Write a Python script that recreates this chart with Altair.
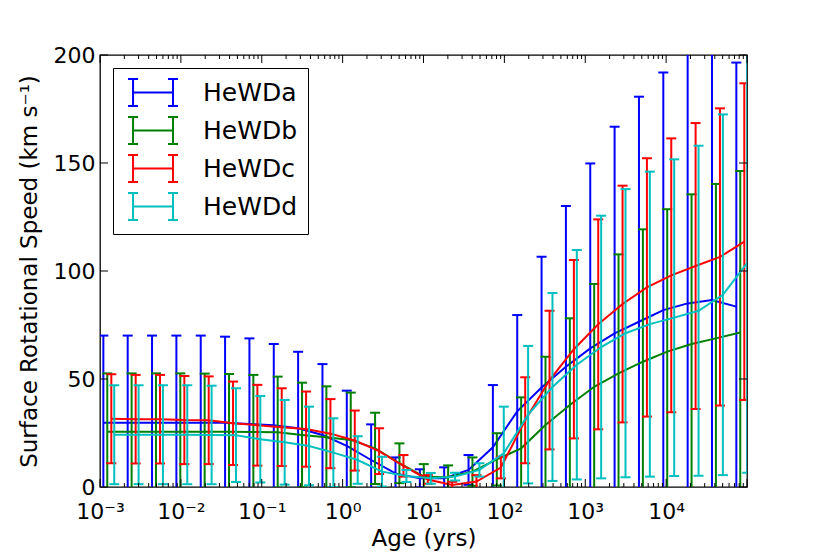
import json
import altair as alt
import pandas as pd

# ---------------- data ----------------
series = ["HeWDa", "HeWDb", "HeWDc", "HeWDd"]
colors = ["#0000ff", "#008000", "#ff0000", "#00bfbf"]

age_a = [0.0011, 0.0022, 0.0044, 0.0088, 0.0176, 0.0352, 0.0704, 0.1408, 0.2816, 0.5632,
         1.126, 2.253, 4.506, 9.011, 18.02, 36.04, 72.09, 144.2, 288.4, 576.7,
         1153, 2307, 4614, 9228, 18455, 36910, 73820]
age_b = [0.00123, 0.00246, 0.00492, 0.00984, 0.01968, 0.03936, 0.07872, 0.1574, 0.3149, 0.6298,
         1.260, 2.519, 5.038, 10.08, 20.15, 40.30, 80.61, 161.2, 322.4, 644.9,
         1290, 2579, 5159, 10318, 20636, 41272, 82543]
age_c = [0.00138, 0.00276, 0.00552, 0.01104, 0.02208, 0.04416, 0.08832, 0.1766, 0.3533, 0.7066,
         1.413, 2.826, 5.652, 11.30, 22.61, 45.22, 90.44, 180.9, 361.8, 723.5,
         1447, 2894, 5788, 11576, 23152, 46305, 92610]
age_d = [0.0015, 0.003, 0.006, 0.012, 0.024, 0.048, 0.096, 0.192, 0.384, 0.768,
         1.536, 3.072, 6.144, 12.29, 24.58, 49.15, 98.30, 196.6, 393.2, 786.4,
         1573, 3146, 6291, 12583, 25166, 50332, 100663]

speed_a = [29.8, 29.8, 29.8, 29.8, 29.8, 29.7, 29.2, 28.6, 27.2, 24.1, 19.0, 12.5, 6.3, 4.0,
           4.0, 7.9, 18.4, 35.0, 46.1, 55.7, 64.2, 71.1, 76.5, 81.9, 85.0, 86.6, 83.5]
err_a = [40.3, 40.3, 40.3, 40.3, 40.3, 39.9, 39.6, 37.6, 35.4, 32.8, 25.6, 16.5, 7.4, 4.2,
         5.1, 6.9, 28.8, 44.6, 60.5, 74.4, 85.6, 95.7, 104.2, 110.0, 120.0, 122.0, 113.0]

speed_b = [25.6, 25.6, 25.6, 25.6, 25.6, 25.6, 25.5, 25.4, 24.1, 23.0, 21.8, 17.9, 11.0, 4.8,
           4.5, 7.1, 12.8, 17.9, 28.7, 38.0, 46.4, 52.6, 58.0, 62.7, 66.2, 68.8, 71.5]
err_b = [27.0, 27.0, 27.0, 27.0, 26.9, 26.7, 26.4, 25.7, 24.2, 23.6, 21.9, 16.5, 9.2, 5.8,
         5.5, 6.6, 12.1, 23.6, 31.6, 40.1, 47.6, 55.1, 61.3, 65.9, 69.3, 71.5, 74.8]

speed_c = [31.6, 31.4, 31.4, 31.0, 30.9, 29.5, 28.6, 27.7, 26.8, 24.7, 21.5, 16.6, 9.8, 3.5,
           0.9, 2.5, 9.0, 30.9, 49.5, 63.8, 75.3, 84.7, 92.4, 98.0, 102.3, 106.5, 113.6]
err_c = [20.6, 20.5, 20.5, 20.4, 20.3, 19.3, 18.7, 18.0, 17.4, 16.0, 13.9, 10.6, 5.0, 2.0,
         1.5, 3.0, 5.0, 19.9, 32.1, 41.3, 48.6, 54.8, 59.8, 63.4, 66.2, 68.8, 73.3]

speed_d = [24.2, 24.2, 24.2, 24.2, 24.1, 24.0, 22.1, 20.7, 19.0, 15.9, 12.5, 7.1, 5.1, 4.0,
           4.8, 7.9, 15.6, 33.5, 46.3, 56.6, 64.8, 71.2, 75.4, 78.4, 81.6, 89.0, 103.8]
err_d = [22.9, 22.9, 22.9, 22.9, 22.8, 21.7, 20.0, 19.6, 18.2, 15.9, 11.0, 6.9, 2.8, 2.5,
         1.8, 3.1, 21.6, 31.8, 43.5, 53.1, 60.8, 66.7, 70.6, 73.3, 76.4, 83.5, 97.2]

x_label_values = [0.001, 0.01, 0.1, 1, 10, 100, 1000, 10000]
x_tick_labels = ["10⁻³", "10⁻²", "10⁻¹", "10⁰", "10¹", "10²", "10³", "10⁴"]
x_major_ticks = [0.001, 0.01, 0.1, 1, 10, 100, 1000, 10000, 100000]
x_minor_ticks = [m * d for d in [0.001, 0.01, 0.1, 1, 10, 100, 1000, 10000] for m in range(2, 10)]
y_ticks = [0, 50, 100, 150, 200]

# ---------------- build table ----------------
rows = []
for name, ages, sp, er in zip(series, [age_a, age_b, age_c, age_d],
                              [speed_a, speed_b, speed_c, speed_d],
                              [err_a, err_b, err_c, err_d]):
    for t, m, e in zip(ages, sp, er):
        rows.append({"series": name, "age": t, "speed": m, "lo": m - e, "hi": m + e})
df = pd.DataFrame(rows)

W, H = 647, 432
FONT = "DejaVu Sans"

xscale = alt.Scale(type="log", domain=[1e-3, 1e5], nice=False)
yscale = alt.Scale(domain=[0, 200], nice=False)

label_expr = (json.dumps(x_tick_labels, ensure_ascii=False)
              + "[round(log(datum.value)/LN10)+3]")

xaxis = alt.Axis(values=x_label_values, labelExpr=label_expr, ticks=False, domain=False,
                 grid=False, labelFontSize=22, labelPadding=14, labelColor="black",
                 title="Age (yrs)", titleFontSize=23, titleFontWeight="normal",
                 titleColor="black", titlePadding=5, labelFlush=False)
yaxis = alt.Axis(values=y_ticks, ticks=False, domain=False, grid=False,
                 labelFontSize=22, labelPadding=5, labelColor="black",
                 title="Surface Rotational Speed (km s⁻¹)", titleFontSize=23,
                 titleFontWeight="normal", titleColor="black", titlePadding=12)

X = alt.X("age:Q", scale=xscale, axis=xaxis)
color_scale = alt.Scale(domain=series, range=colors)

legend_path = ("M-0.33,0H2.63M-0.33,-1V1M2.63,-1V1"
               "M-0.70,-1H0.04M-0.70,1H0.04M2.26,-1H3.0M2.26,1H3.0")
legend = alt.Legend(orient="none", legendX=13, legendY=13, title=None,
                    symbolType=legend_path, symbolSize=729, symbolStrokeWidth=2,
                    labelFontSize=25, labelFont=FONT, labelColor="black",
                    padding=10, strokeColor="black", fillColor="white",
                    rowPadding=3, labelOffset=51, symbolOffset=0)

cap_shape = "M-1,0H1"

layers = []
for i, (name, col) in enumerate(zip(series, colors)):
    b = alt.Chart(df).transform_filter(alt.datum.series == name)
    bars = b.mark_rule(clip=True, strokeWidth=2, color=col).encode(
        x=X, y=alt.Y("lo:Q", scale=yscale, axis=yaxis), y2="hi:Q")
    cap_hi = b.mark_point(clip=True, shape=cap_shape, size=100, filled=False,
                          strokeWidth=2, color=col, opacity=1).encode(
        x=X, y=alt.Y("hi:Q", scale=yscale, axis=yaxis))
    cap_lo = b.mark_point(clip=True, shape=cap_shape, size=100, filled=False,
                          strokeWidth=2, color=col, opacity=1).encode(
        x=X, y=alt.Y("lo:Q", scale=yscale, axis=yaxis))
    line = b.mark_line(clip=True, strokeWidth=2).encode(
        x=X, y=alt.Y("speed:Q", scale=yscale, axis=yaxis),
        color=alt.Color("series:N", scale=color_scale,
                        legend=legend if i == 0 else None))
    layers += [bars, cap_hi, cap_lo, line]

# inward axis ticks (matplotlib style) on all four sides
xmaj = pd.DataFrame({"age": x_major_ticks})
xmin = pd.DataFrame({"age": x_minor_ticks})
yt = pd.DataFrame({"speed": y_ticks})
tick_style = dict(color="black", strokeWidth=1)
layers += [
    alt.Chart(xmaj).mark_rule(**tick_style).encode(x=X, y=alt.value(H), y2=alt.value(H - 8)),
    alt.Chart(xmaj).mark_rule(**tick_style).encode(x=X, y=alt.value(0), y2=alt.value(8)),
    alt.Chart(xmin).mark_rule(**tick_style).encode(x=X, y=alt.value(H), y2=alt.value(H - 4)),
    alt.Chart(xmin).mark_rule(**tick_style).encode(x=X, y=alt.value(0), y2=alt.value(4)),
    alt.Chart(yt).mark_rule(**tick_style).encode(
        y=alt.Y("speed:Q", scale=yscale, axis=yaxis), x=alt.value(0), x2=alt.value(8)),
    alt.Chart(yt).mark_rule(**tick_style).encode(
        y=alt.Y("speed:Q", scale=yscale, axis=yaxis), x=alt.value(W), x2=alt.value(W - 8)),
]

chart = alt.layer(*layers).properties(
    width=W, height=H,
    autosize=alt.AutoSizeParams(type="none"),
    padding={"left": 92, "top": 47, "right": 75, "bottom": 66},
).configure(font=FONT).configure_view(stroke="black", strokeWidth=1.3)

chart.save("out.html", embed_options={"renderer": "svg", "actions": False})
